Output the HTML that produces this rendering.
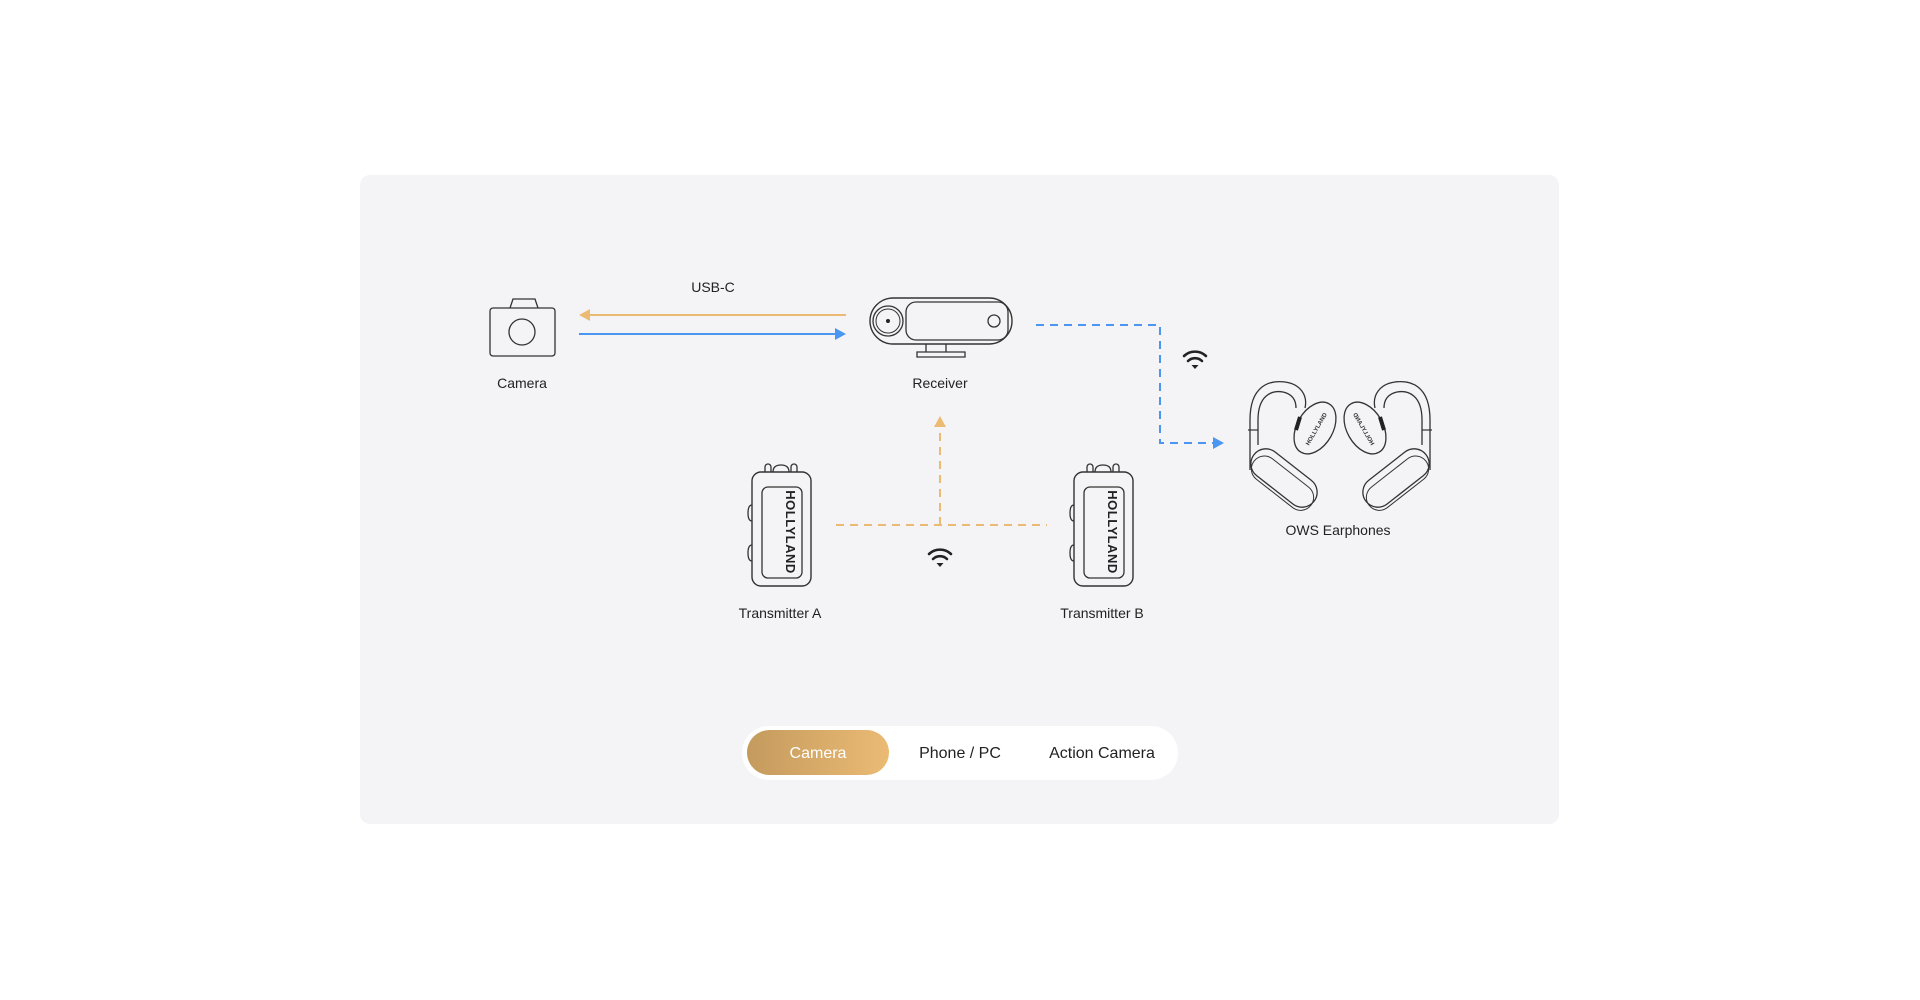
<!DOCTYPE html>
<html><head><meta charset="utf-8"><style>
html,body{margin:0;padding:0;background:#fff;width:1920px;height:1000px;overflow:hidden}
svg{display:block}
text{font-family:"Liberation Sans",sans-serif;fill:#222}
</style></head><body>
<svg width="1920" height="1000" viewBox="0 0 1920 1000" xmlns="http://www.w3.org/2000/svg">
<defs>
<linearGradient id="g" x1="0" x2="1"><stop offset="0" stop-color="#c49a5e"/><stop offset="1" stop-color="#ebbb74"/></linearGradient>
<g id="tx">
<path d="M765,472 v-5 a3,3 0 0 1 6,0 v5 M791,472 v-5 a3,3 0 0 1 6,0 v5 M773,472 q0,-7 8,-7 q8,0 8,7" fill="none" stroke="#333" stroke-width="1.3"/>
<rect x="752" y="472" width="59" height="114" rx="9" fill="none" stroke="#333" stroke-width="1.4"/>
<rect x="762" y="487" width="40" height="91" rx="6" fill="none" stroke="#333" stroke-width="1.3"/>
<path d="M752,505 q-4,0 -4,8 q0,8 4,8 M752,545 q-4,0 -4,8 q0,8 4,8" fill="none" stroke="#333" stroke-width="1.3"/>
<text x="0" y="0" transform="translate(786,532) rotate(90)" text-anchor="middle" font-size="13" font-weight="bold" letter-spacing="0.5" style="fill:#222">HOLLYLAND</text>
</g>
<g id="ear">
<path d="M1250,470 V420 C1250,385 1270,380 1285,382 C1300,384 1308,395 1305,408" fill="none" stroke="#333" stroke-width="1.3"/>
<path d="M1258,445 V420 C1258,395 1272,390 1283,392 C1292,394 1296,400 1296,408" fill="none" stroke="#333" stroke-width="1.3"/>
<line x1="1248" y1="430" x2="1258" y2="430" stroke="#333" stroke-width="1.2"/>
<ellipse cx="1315" cy="428" rx="18" ry="28" transform="rotate(30 1315 428)" fill="#f4f4f6" stroke="#333" stroke-width="1.3"/>
<line x1="1300" y1="417" x2="1296" y2="430" stroke="#222" stroke-width="4"/>
<text transform="translate(1318,430) rotate(-60)" text-anchor="middle" font-size="6" font-weight="bold" style="fill:#333">HOLLYLAND</text>
<rect x="1246" y="463" width="76" height="30" rx="15" transform="rotate(38 1284 478)" fill="#f4f4f6" stroke="#333" stroke-width="1.3"/>
<rect x="1250" y="470" width="72" height="26" rx="13" transform="rotate(38 1284 478)" fill="none" stroke="#333" stroke-width="1"/>
</g>
</defs>
<rect x="360" y="175" width="1199" height="649" rx="10" fill="#f4f4f6"/>

<!-- camera -->
<path d="M510,308 l3,-9 h22 l3,9" fill="none" stroke="#333" stroke-width="1.3"/>
<rect x="490" y="308" width="65" height="48" rx="3" fill="none" stroke="#333" stroke-width="1.3"/>
<ellipse cx="522" cy="332" rx="13" ry="13" fill="none" stroke="#333" stroke-width="1.3"/>
<text x="522" y="388" text-anchor="middle" font-size="14">Camera</text>

<!-- arrows -->
<text x="713" y="292" text-anchor="middle" font-size="14">USB-C</text>
<line x1="588" y1="315" x2="846" y2="315" stroke="#ebbb74" stroke-width="2"/>
<path d="M579,315 l11,-6 v12z" fill="#ebbb74"/>
<line x1="579" y1="334" x2="836" y2="334" stroke="#4a96f0" stroke-width="2"/>
<path d="M846,334 l-11,-6 v12z" fill="#4a96f0"/>

<!-- receiver -->
<rect x="870" y="298" width="142" height="46" rx="23" fill="none" stroke="#333" stroke-width="1.4"/>
<rect x="906" y="302" width="102" height="38" rx="10" fill="none" stroke="#333" stroke-width="1.3"/>
<circle cx="888" cy="321" r="15" fill="none" stroke="#333" stroke-width="1.3"/>
<circle cx="888" cy="321" r="12" fill="none" stroke="#333" stroke-width="1"/>
<circle cx="888" cy="321" r="2" fill="#222"/>
<circle cx="994" cy="321" r="6" fill="none" stroke="#333" stroke-width="1.3"/>
<path d="M926,344 v8 h20 v-8 M917,352 h48 v5 h-48z" fill="none" stroke="#333" stroke-width="1.3"/>
<text x="940" y="388" text-anchor="middle" font-size="14">Receiver</text>

<!-- blue dashed -->
<path d="M1036,325 H1160 V443 H1214" fill="none" stroke="#4a96f0" stroke-width="2" stroke-dasharray="8,6"/>
<path d="M1224,443 l-11,-6 v12z" fill="#4a96f0"/>

<!-- wifi icons -->
<g fill="none" stroke="#222" stroke-width="2.6" stroke-linecap="round">
<path d="M1184,356 a16,16 0 0 1 22,0 M1188,361 a10,10 0 0 1 14,0"/>
<path d="M929,554 a16,16 0 0 1 22,0 M933,559 a10,10 0 0 1 14,0"/>
</g>
<path d="M1195,369 l-3.5,-4 h7z" fill="#222"/>
<path d="M940,567 l-3.5,-4 h7z" fill="#222"/>

<!-- orange dashed -->
<path d="M836,525 H1047 M940,525 V426" fill="none" stroke="#ebbb74" stroke-width="2" stroke-dasharray="8,6"/>
<path d="M940,416 l-6,11 h12z" fill="#ebbb74"/>

<!-- transmitters -->
<use href="#tx"/>
<text x="780" y="618" text-anchor="middle" font-size="14">Transmitter A</text>
<use href="#tx" transform="translate(322,0)"/>
<text x="1102" y="618" text-anchor="middle" font-size="14">Transmitter B</text>

<!-- earphones -->
<use href="#ear"/>
<use href="#ear" transform="translate(2680,0) scale(-1,1)"/>
<text x="1338" y="535" text-anchor="middle" font-size="14">OWS Earphones</text>

<!-- toggle -->
<rect x="742" y="726" width="436" height="54" rx="27" fill="#fff"/>
<rect x="747" y="730" width="142" height="45" rx="22.5" fill="url(#g)"/>
<text x="818" y="758" text-anchor="middle" font-size="16" style="fill:#fff">Camera</text>
<text x="960" y="758" text-anchor="middle" font-size="16">Phone / PC</text>
<text x="1102" y="758" text-anchor="middle" font-size="16">Action Camera</text>
</svg>
</body></html>
